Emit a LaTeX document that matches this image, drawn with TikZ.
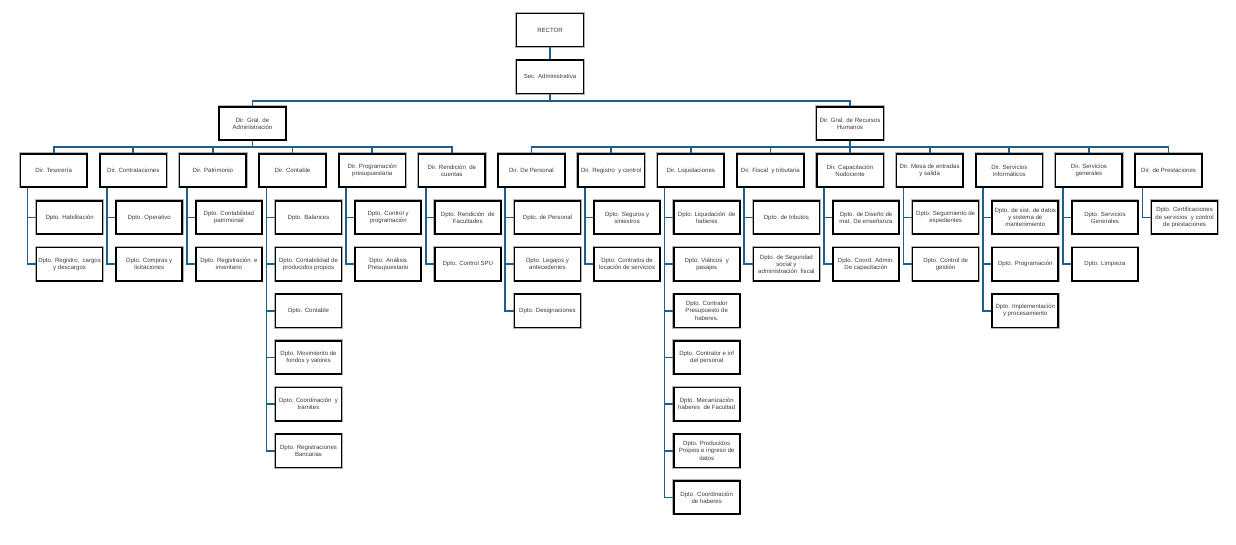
\documentclass[tikz,border=0pt]{standalone}
\usepackage{fontspec}
\setmainfont{Liberation Sans}
\definecolor{linec}{RGB}{30,96,140}
\definecolor{txt}{RGB}{60,60,60}
\tikzset{
  orgbox/.style={draw=black, line width=1.2pt, fill=white, minimum width=50pt, minimum height=25pt,
    inner sep=0.5pt, align=center, font=\fontsize{4.55}{5.3}\selectfont, text=txt, anchor=north west,
    preaction={draw=black!30, line width=2pt}},
  topbox/.style={orgbox, anchor=center},
  conn/.style={draw=linec, line width=1.3pt},
}
\newcommand\DirBox[2]{\node[orgbox] (d#1) at ({19.5+79.64*#1},153) {#2};}
\newcommand\DepBox[3]{\node[orgbox, minimum width=49.5pt] (c#1-#2) at ({35.8+79.64*#1},{200+46.67*#2}) {#3};
  \draw[conn] ([xshift=6pt]d#1.south west) |- (c#1-#2.west);}
\begin{document}
\begin{tikzpicture}[x=0.75pt,y=-0.75pt]
\fill[white] (0,0) rectangle (1236,545);
\useasboundingbox (0,0) rectangle (1236,545);
% top levels
\node[topbox] (rector) at (550,30) {RECTOR};
\node[topbox] (sec) at (550,76.7) {Sec. Administrativa};
\node[topbox] (gadm) at (252.5,123.4) {Dir. Gral. de\\Administración};
\node[topbox] (grh) at (850,123.4) {Dir. Gral. de Recursos\\Humanos};
% directions
\DirBox{0}{Dir. Tesorería}
\DirBox{1}{Dir. Contrataciones}
\DirBox{2}{Dir. Patrimonio}
\DirBox{3}{Dir. Contable}
\DirBox{4}{Dir. Programación\\presupuestaria}
\DirBox{5}{Dir. Rendición\ \ de\\cuentas}
\DirBox{6}{Dir. De Personal}
\DirBox{7}{Dir. Registro\ \ y control}
\DirBox{8}{Dir. Liquidaciones}
\DirBox{9}{Dir. Fiscal\ \ y tributaria}
\DirBox{10}{Dir. Capacitación\\Nodocente}
\DirBox{11}{Dir. Mesa de entradas\\y salida}
\DirBox{12}{Dir. Servicios\\informáticos}
\DirBox{13}{Dir. Servicios\\generales}
\DirBox{14}{Dir. de Prestaciones}
% top connectors
\draw[conn] (rector) -- (sec);
\draw[conn] (sec.south) -- ++(0,6.5) -| (gadm.north);
\draw[conn] (sec.south) -- ++(0,6.5) -| (grh.north);
\foreach \i in {0,...,5}{\draw[conn] (gadm.south) -- ++(0,6.5) -| (d\i.north);}
\foreach \i in {6,...,14}{\draw[conn] (grh.south) -- ++(0,6.5) -| (d\i.north);}
% departments
\DepBox{0}{0}{Dpto. Habilitación}
\DepBox{0}{1}{Dpto. Registro,\ \ cargos\\y descargos}
\DepBox{1}{0}{Dpto. Operativo}
\DepBox{1}{1}{Dpto. Compras y\\licitaciones}
\DepBox{2}{0}{Dpto. Contabilidad\\patrimonial}
\DepBox{2}{1}{Dpto. Registración\ \ e\\inventario}
\DepBox{3}{0}{Dpto. Balances}
\DepBox{3}{1}{Dpto. Contabilidad de\\producidos propios}
\DepBox{3}{2}{Dpto. Contable}
\DepBox{3}{3}{Dpto. Movimiento de\\fondos y valores}
\DepBox{3}{4}{Dpto. Coordinación\ \ y\\tramites}
\DepBox{3}{5}{Dpto. Registraciones\\Bancarias}
\DepBox{4}{0}{Dpto. Control y\\programación}
\DepBox{4}{1}{Dpto. Análisis\\Presupuestario}
\DepBox{5}{0}{Dpto. Rendición\ \ de\\Facultades}
\DepBox{5}{1}{Dpto. Control SPU}
\DepBox{6}{0}{Dpto. de Personal}
\DepBox{6}{1}{Dpto. Legajos y\\antecedentes}
\DepBox{6}{2}{Dpto. Designaciones}
\DepBox{7}{0}{Dpto. Seguros y\\siniestros}
\DepBox{7}{1}{Dpto. Contratos de\\locación de servicios}
\DepBox{8}{0}{Dpto. Liquidación\ \ de\\haberes}
\DepBox{8}{1}{Dpto. Viáticos\ \ y\\pasajes}
\DepBox{8}{2}{Dpto. Contralor\\Presupuesto de\\haberes.}
\DepBox{8}{3}{Dpto. Contralor e inf\\del personal}
\DepBox{8}{4}{Dpto. Mecanización\\haberes\ \ de Facultad}
\DepBox{8}{5}{Dpto. Producidos\\Propios e ingreso de\\datos}
\DepBox{8}{6}{Dpto. Coordinación\\de haberes}
\DepBox{9}{0}{Dpto. de tributos}
\DepBox{9}{1}{Dpto. de Seguridad\\social y\\administración\ \ fiscal}
\DepBox{10}{0}{Dpto. de Diseño de\\mat. De enseñanza}
\DepBox{10}{1}{Dpto. Coord. Admin.\\De capacitación}
\DepBox{11}{0}{Dpto. Seguimiento de\\expedientes}
\DepBox{11}{1}{Dpto. Control de\\gestión}
\DepBox{12}{0}{Dpto. de sist. de datos\\y sistema de\\mantenimiento}
\DepBox{12}{1}{Dpto. Programación}
\DepBox{12}{2}{Dpto. Implementación\\y procesamiento}
\DepBox{13}{0}{Dpto. Servicios\\Generales}
\DepBox{13}{1}{Dpto. Limpieza}
\DepBox{14}{0}{Dpto. Certificaciones\\de servicios\ \ y control\\de prestaciones}
\end{tikzpicture}
\end{document}
